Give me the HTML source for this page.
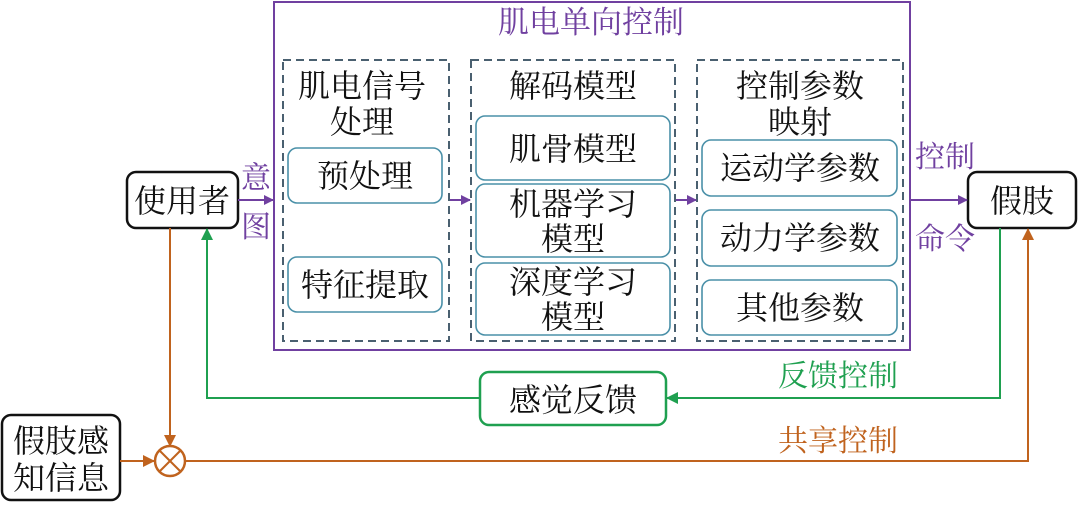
<!DOCTYPE html>
<html><head><meta charset="utf-8"><style>
html,body{margin:0;padding:0;background:#fff;}
svg text{font-family:"Liberation Serif","Noto Serif CJK SC",serif;}
</style></head><body>
<svg width="1080" height="504" viewBox="0 0 1080 504" xmlns="http://www.w3.org/2000/svg">
<defs>
<marker id="ap" markerWidth="10" markerHeight="10" refX="9" refY="5" orient="auto" markerUnits="userSpaceOnUse"><path d="M0,0 L10,5 L0,10 z" fill="#7040a0"/></marker>
<marker id="ag" markerWidth="12" markerHeight="12" refX="11" refY="6" orient="auto" markerUnits="userSpaceOnUse"><path d="M0,0 L12,6 L0,12 z" fill="#1fa050"/></marker>
<marker id="ao" markerWidth="12" markerHeight="12" refX="11" refY="6" orient="auto" markerUnits="userSpaceOnUse"><path d="M0,0 L12,6 L0,12 z" fill="#c0631e"/></marker>
</defs>
<rect x="274" y="2" width="636" height="348" fill="none" stroke="#7040a0" stroke-width="2"/>
<text x="591" y="33" font-size="31" fill="#7040a0" text-anchor="middle">肌电单向控制</text>
<g fill="none" stroke="#4a6070" stroke-width="2" stroke-dasharray="8,5">
<rect x="283" y="60" width="166" height="281"/>
<rect x="471" y="60" width="204" height="281"/>
<rect x="697" y="60" width="206" height="281"/>
</g>
<g font-size="32" fill="#111" text-anchor="middle">
<text x="362" y="97">肌电信号</text><text x="362" y="133">处理</text>
<text x="573" y="97">解码模型</text>
<text x="800" y="97">控制参数</text><text x="800" y="133">映射</text>
</g>
<g fill="#fff" stroke="#4a90a8" stroke-width="1.6">
<rect x="288" y="148" width="154" height="55" rx="9"/>
<rect x="288" y="257" width="154" height="55" rx="9"/>
<rect x="476" y="116" width="194" height="64" rx="9"/>
<rect x="476" y="184" width="194" height="73" rx="9"/>
<rect x="476" y="263" width="194" height="72" rx="9"/>
<rect x="702" y="140" width="195" height="56" rx="9"/>
<rect x="702" y="210" width="195" height="56" rx="9"/>
<rect x="702" y="280" width="195" height="55" rx="9"/>
</g>
<g font-size="32" fill="#111" text-anchor="middle">
<text x="365" y="187">预处理</text>
<text x="365" y="296">特征提取</text>
<text x="573" y="160">肌骨模型</text>
<text x="573" y="215">机器学习</text><text x="573" y="250">模型</text>
<text x="573" y="293">深度学习</text><text x="573" y="328">模型</text>
<text x="800" y="179">运动学参数</text>
<text x="800" y="249">动力学参数</text>
<text x="800" y="319">其他参数</text>
</g>
<rect x="127" y="172" width="111" height="56" rx="9" fill="#fff" stroke="#111" stroke-width="2.5"/>
<text x="182" y="212" font-size="32" fill="#111" text-anchor="middle">使用者</text>
<rect x="968" y="172" width="108" height="56" rx="9" fill="#fff" stroke="#111" stroke-width="2.5"/>
<text x="1022" y="212" font-size="32" fill="#111" text-anchor="middle">假肢</text>
<rect x="2" y="415" width="118" height="85" rx="9" fill="#fff" stroke="#111" stroke-width="2.5"/>
<text x="61" y="452" font-size="32" fill="#111" text-anchor="middle">假肢感</text>
<text x="61" y="489" font-size="32" fill="#111" text-anchor="middle">知信息</text>
<g fill="#7040a0" font-size="30" text-anchor="middle">
<text x="256" y="188">意</text><text x="256" y="237">图</text>
<text x="945" y="167">控制</text><text x="945" y="249">命令</text>
</g>
<g stroke="#7040a0" stroke-width="2">
<line x1="238" y1="200" x2="273" y2="200" marker-end="url(#ap)"/>
<line x1="450" y1="200" x2="470" y2="200" marker-end="url(#ap)"/>
<line x1="676" y1="200" x2="696" y2="200" marker-end="url(#ap)"/>
<line x1="910" y1="200" x2="967" y2="200" marker-end="url(#ap)"/>
</g>
<rect x="480" y="372" width="186" height="53" rx="9" fill="#fff" stroke="#1fa050" stroke-width="2.5"/>
<text x="573" y="411" font-size="32" fill="#111" text-anchor="middle">感觉反馈</text>
<g fill="none" stroke="#1fa050" stroke-width="2">
<polyline points="1000,228 1000,398 667,398" marker-end="url(#ag)"/>
<polyline points="480,398 207,398 207,229" marker-end="url(#ag)"/>
</g>
<text x="838" y="386" font-size="30" fill="#1fa050" text-anchor="middle">反馈控制</text>
<g fill="none" stroke="#c0631e" stroke-width="2">
<line x1="170" y1="228" x2="170" y2="446" marker-end="url(#ao)"/>
<line x1="120" y1="461" x2="154" y2="461" marker-end="url(#ao)"/>
<circle cx="170" cy="461" r="15" stroke-width="2.5"/>
<line x1="159" y1="450" x2="181" y2="472"/><line x1="181" y1="450" x2="159" y2="472"/>
<polyline points="185,461 1028,461 1028,229" marker-end="url(#ao)"/>
</g>
<text x="838" y="451" font-size="30" fill="#c0631e" text-anchor="middle">共享控制</text>
</svg>
</body></html>
